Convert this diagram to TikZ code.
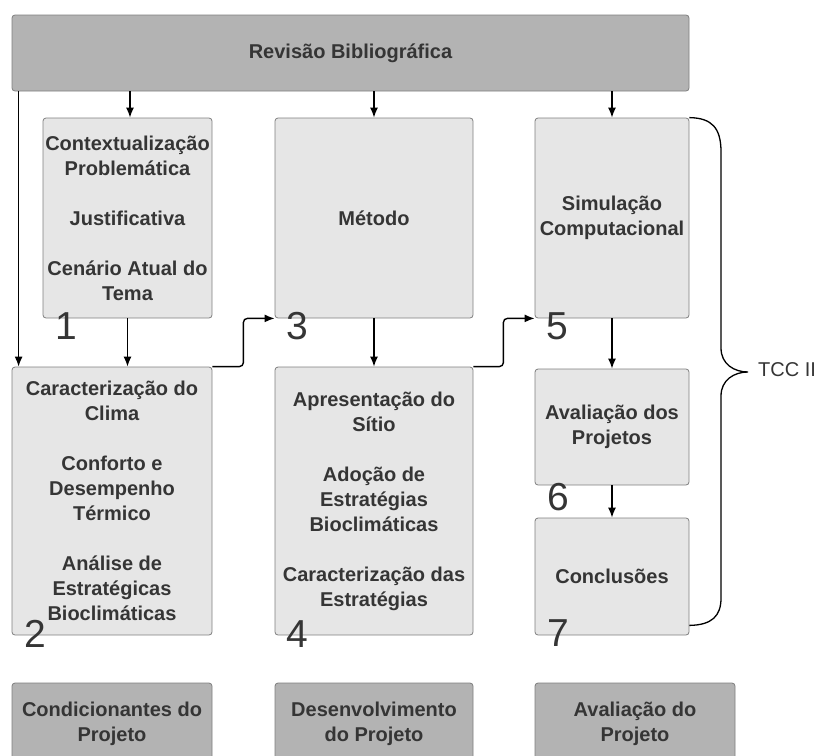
\documentclass[tikz,border=0pt]{standalone}
\usepackage{fontspec}
\setmainfont{Liberation Sans}
\usepackage{tikz}
\usetikzlibrary{arrows.meta}
\definecolor{boxfill}{HTML}{E6E6E6}
\definecolor{headfill}{HTML}{B3B3B3}
\definecolor{boxline}{HTML}{7F7F7F}
\definecolor{txt}{HTML}{353535}
\begin{document}
\begin{tikzpicture}[x=1pt,y=-1pt]
	\tikzstyle{box}=[rectangle,draw=boxline,fill=boxfill,rounded corners=3pt,line width=0.8pt,align=center,text=txt,inner sep=0pt,font=\fontsize{20}{25}\selectfont\bfseries]
	\tikzstyle{head}=[box,fill=headfill]
	\tikzstyle{num}=[text=txt,inner sep=0pt,font=\fontsize{39}{39}\selectfont]
	\tikzstyle{flow}=[line width=1.4pt,-{Latex[length=10pt,width=8pt]}]
	\tikzstyle{elbow}=[flow,rounded corners=4pt]
	\clip (0,0) rectangle (816,755);
	% top
	\node (rev) at (350.5,53) [head,minimum width=677pt,minimum height=76pt] {Revisão Bibliográfica};
	% first row
	\node (ctx) at (127.5,218) [box,minimum width=169pt,minimum height=200pt] {Contextualização\\Problemática\\[25pt]Justificativa\\[25pt]Cenário Atual do\\Tema};
	\node (met) at (374,218) [box,minimum width=198pt,minimum height=200pt] {Método};
	\node (sim) at (612,218) [box,minimum width=154pt,minimum height=200pt] {Simulação\\Computacional};
	% second row
	\node (cli) at (112,501) [box,minimum width=200pt,minimum height=268pt] {Caracterização do\\Clima\\[25pt]Conforto e\\Desempenho\\Térmico\\[25pt]Análise de\\Estratégicas\\Bioclimáticas};
	\node (apr) at (374,501) [box,minimum width=198pt,minimum height=268pt] {Apresentação do\\Sítio\\[25pt]Adoção de\\Estratégias\\Bioclimáticas\\[25pt]Caracterização das\\Estratégias};
	\node (ava) at (612,427) [box,minimum width=154pt,minimum height=116pt] {Avaliação dos\\Projetos};
	\node (con) at (612,576.5) [box,minimum width=154pt,minimum height=117pt] {Conclusões};
	% bottom
	\node (cond) at (112,724) [head,minimum width=200pt,minimum height=82pt] {Condicionantes do\\Projeto};
	\node (des) at (374,724) [head,minimum width=198pt,minimum height=82pt] {Desenvolvimento\\do Projeto};
	\node (avp) at (635,724) [head,minimum width=200pt,minimum height=82pt] {Avaliação do\\Projeto};
	% step numbers
	\node (n1) at (66,326) [num] {1};
	\node (n2) at (35,634) [num] {2};
	\node (n3) at (297,326) [num] {3};
	\node (n4) at (297,634) [num] {4};
	\node (n5) at (557,326) [num] {5};
	\node (n6) at (558,497) [num] {6};
	\node (n7) at (558,633) [num] {7};
	% arrows
	\draw [flow] ([xshift=2.5pt]rev.south -| ctx.north) -- ([xshift=2.5pt]ctx.north);
	\draw [flow] (rev.south -| met.north) -- (met.north);
	\draw [flow] (rev.south -| sim.north) -- (sim.north);
	\draw [flow] ([xshift=7pt]rev.south west) -- ([xshift=7pt]cli.north west);
	\draw [flow] (ctx.south) -- (ctx.south |- cli.north);
	\draw [flow] (met.south) -- (apr.north);
	\draw [flow] (sim.south) -- (sim.south |- ava.north);
	\draw [flow] (ava.south) -- (con.north);
	\draw [elbow] (cli.north east) -- ++(31,0) |- (met.south west);
	\draw [elbow] (apr.north east) -- ++(30,0) |- (sim.south west);
	% brace
	\coordinate (tip) at (748,372);
	\node (tcc) at (758,370) [anchor=west,text=txt,inner sep=0pt,font=\fontsize{20}{20}\selectfont] {TCC II};
	\draw [line width=1.3pt] (sim.north east) .. controls (712,118) and (721,128) .. (721,152) -- (721,348)
		.. controls (721,364) and (734,372) .. (tip) .. controls (734,372) and (721,380) .. (721,396)
		-- (721,598) .. controls (721,616) and (712,625) .. ([yshift=10pt]con.south east);
\end{tikzpicture}
\end{document}
